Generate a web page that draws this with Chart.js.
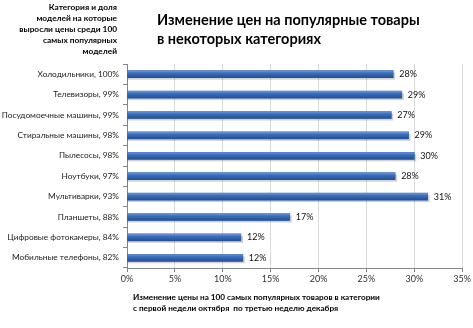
<!DOCTYPE html>
<html>
<head>
<meta charset="utf-8">
<script src="https://cdn.jsdelivr.net/npm/chart.js@4"></script>
<style>
  html, body { margin: 0; padding: 0; background: #fff; }
  #wrap { width: 473px; height: 328px; position: relative; }
</style>
</head>
<body>
<div id="wrap"><canvas id="chart" width="473" height="328"></canvas></div>
<script>
const categories = [
  "Холодильники, 100%",
  "Телевизоры, 99%",
  "Посудомоечные машины, 99%",
  "Стиральные машины, 98%",
  "Пылесосы, 98%",
  "Ноутбуки, 97%",
  "Мультиварки, 93%",
  "Планшеты, 88%",
  "Цифровые фотокамеры, 84%",
  "Мобильные телефоны, 82%"
];
const priceChange = [27.8, 28.7, 27.6, 29.4, 30.0, 28.0, 31.4, 17.0, 11.9, 12.1];
const valueLabels = ["28%", "29%", "27%", "29%", "30%", "28%", "31%", "17%", "12%", "12%"];

const titleLines = ["Изменение цен на популярные товары", "в некоторых категориях"];
const sideLines = ["Категория и доля", "моделей на которые", "выросли цены среди 100", "самых популярных", "моделей"];
const xTitleLines = [
  "Изменение цены на 100 самых популярных товаров в категории",
  "с первой недели октября  по третью неделю декабря"
];

const FONT = "Lato, 'Open Sans', sans-serif";

// shadows under bars, then gradient over them, then value labels
const barStyle = {
  id: "barStyle",
  beforeDatasetsDraw(chart) {
    const c = chart.ctx;
    c.save();
    chart.getDatasetMeta(0).data.forEach(bar => {
      const h = bar.height;
      c.fillStyle = "rgba(0,0,0,0.18)";
      c.fillRect(bar.base, bar.y - h / 2 + 2, bar.x - bar.base + 2, h);
    });
    c.restore();
  },
  afterDatasetsDraw(chart) {
    const c = chart.ctx;
    c.save();
    chart.getDatasetMeta(0).data.forEach((bar, i) => {
      const h = bar.height;
      const top = bar.y - h / 2;
      const g = c.createLinearGradient(0, top, 0, top + h);
      g.addColorStop(0, "#6f98d6");
      g.addColorStop(0.35, "#3a6fbe");
      g.addColorStop(1, "#234f92");
      c.fillStyle = g;
      c.fillRect(bar.base, top, bar.x - bar.base, h);
      c.fillStyle = "#111";
      c.font = "9px " + FONT;
      c.textBaseline = "middle";
      c.textAlign = "left";
      c.fillText(valueLabels[i], bar.x + 6, bar.y);
    });
    c.restore();
  },
  afterDraw(chart) {
    const c = chart.ctx;
    c.save();
    c.fillStyle = "#000";
    c.textBaseline = "middle";
    c.font = "bold 14.5px " + FONT;
    c.textAlign = "left";
    titleLines.forEach((t, i) => c.fillText(t, 157, 20 + i * 19));
    c.font = "bold 8.3px " + FONT;
    c.textAlign = "right";
    sideLines.forEach((t, i) => c.fillText(t, 117, 7 + i * 11));
    c.font = "bold 8.2px " + FONT;
    c.textAlign = "left";
    xTitleLines.forEach((t, i) => c.fillText(t, 133, 297 + i * 11));
    c.restore();
  }
};

new Chart(document.getElementById("chart"), {
  type: "bar",
  data: {
    labels: categories,
    datasets: [{
      data: priceChange,
      backgroundColor: "#2f63ad",
      barThickness: 7
    }]
  },
  options: {
    indexAxis: "y",
    responsive: false,
    animation: false,
    layout: { padding: { top: 64, right: 10, left: 0, bottom: 0 } },
    plugins: { legend: { display: false }, tooltip: { enabled: false } },
    scales: {
      x: {
        min: 0,
        max: 35,
        ticks: {
          stepSize: 5,
          callback: v => v + "%",
          color: "#333",
          font: { family: FONT, size: 9 },
          padding: 2
        },
        grid: { color: "#d9d9d9", tickColor: "#868686", tickLength: 4 },
        border: { color: "#868686" },
        afterFit(scale) { scale.height = 60; }
      },
      y: {
        ticks: {
          color: "#222",
          font: { family: FONT, size: 8.3 },
          padding: 4,
          autoSkip: false
        },
        grid: { drawOnChartArea: false, tickColor: "#868686", tickLength: 4, offset: true },
        border: { color: "#868686" },
        afterFit(scale) { scale.width = 127; }
      }
    }
  },
  plugins: [barStyle]
});
</script>
</body>
</html>
